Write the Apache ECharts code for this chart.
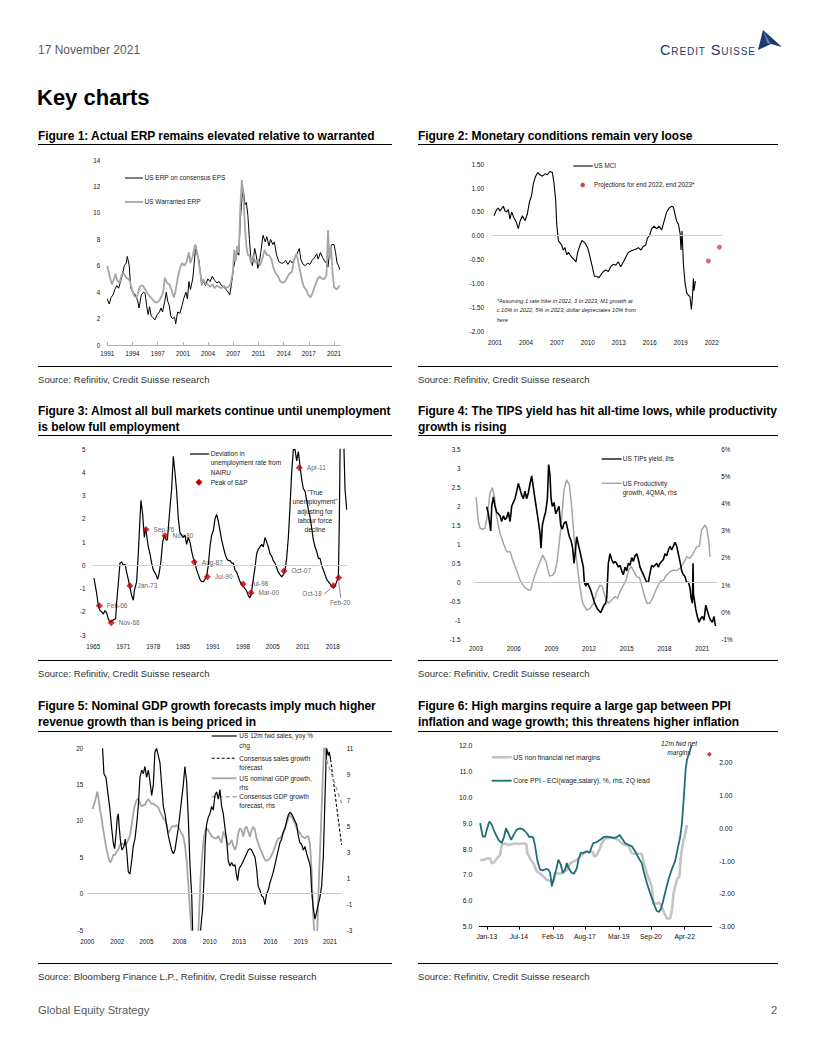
<!DOCTYPE html>
<html><head><meta charset="utf-8">
<script src="https://cdn.jsdelivr.net/npm/echarts@6/dist/echarts.min.js"></script>
<style>
body{margin:0;background:#fff;}
#page{position:relative;width:816px;height:1056px;overflow:hidden;font-family:'Liberation Sans',Arial,sans-serif;color:#000;}
.t{position:absolute;white-space:nowrap;}
.date{left:38px;top:42px;font-size:12px;line-height:16px;color:#595959;}
.key{left:37px;top:85px;font-size:22px;line-height:26px;font-weight:bold;}
.ft{font-size:12px;line-height:16px;font-weight:bold;letter-spacing:-0.05px;}
.rule{position:absolute;height:0;border-top:1.3px solid #000;}
.src{font-size:9.6px;line-height:12px;color:#333;}
.foot{font-size:11.2px;line-height:14px;color:#595959;}
.logo{left:660px;top:42px;font-size:14.5px;line-height:16px;color:#1b3a6b;font-variant:small-caps;letter-spacing:0.9px;}
.chart{position:absolute;}
</style></head>
<body><div id="page">
<div class="t date">17 November 2021</div>
<div class="t logo">Credit Suisse</div>
<svg style="position:absolute;left:757px;top:29px" width="26" height="23" viewBox="0 0 26 23">
<polygon points="1,21 6,1 25,18 14,15" fill="#1b3a6b"/><polygon points="6,1 10,14 14,15" fill="#5b7fb0"/>
</svg>
<div class="t key">Key charts</div>

<div class="t ft" style="left:38px;top:128px">Figure 1: Actual ERP remains elevated relative to warranted</div>
<div class="rule" style="left:38px;top:144px;width:354px"></div>
<div class="t ft" style="left:418px;top:128px">Figure 2: Monetary conditions remain very loose</div>
<div class="rule" style="left:418px;top:144px;width:360px"></div>
<div id="c1" class="chart" style="left:38px;top:148px;width:354px;height:215px"></div>
<div id="c2" class="chart" style="left:418px;top:148px;width:360px;height:215px"></div>
<div class="rule" style="left:38px;top:366px;width:354px"></div>
<div class="rule" style="left:418px;top:366px;width:360px"></div>
<div class="t src" style="left:38px;top:374px">Source: Refinitiv, Credit Suisse research</div>
<div class="t src" style="left:418px;top:374px">Source: Refinitiv, Credit Suisse research</div>

<div class="t ft" style="left:38px;top:403px">Figure 3: Almost all bull markets continue until unemployment<br>is below full employment</div>
<div class="rule" style="left:38px;top:435px;width:354px"></div>
<div class="t ft" style="left:418px;top:403px">Figure 4: The TIPS yield has hit all-time lows, while productivity<br>growth is rising</div>
<div class="rule" style="left:418px;top:435px;width:360px"></div>
<div id="c3" class="chart" style="left:38px;top:440px;width:354px;height:218px"></div>
<div id="c4" class="chart" style="left:418px;top:440px;width:360px;height:218px"></div>
<div class="rule" style="left:38px;top:660px;width:354px"></div>
<div class="rule" style="left:418px;top:660px;width:360px"></div>
<div class="t src" style="left:38px;top:668px">Source: Refinitiv, Credit Suisse research</div>
<div class="t src" style="left:418px;top:668px">Source: Refinitiv, Credit Suisse research</div>

<div class="t ft" style="left:38px;top:698px">Figure 5: Nominal GDP growth forecasts imply much higher<br>revenue growth than is being priced in</div>
<div class="rule" style="left:38px;top:731px;width:354px"></div>
<div class="t ft" style="left:418px;top:698px">Figure 6: High margins require a large gap between PPI<br>inflation and wage growth; this threatens higher inflation</div>
<div class="rule" style="left:418px;top:731px;width:360px"></div>
<div id="c5" class="chart" style="left:38px;top:728px;width:354px;height:230px"></div>
<div id="c6" class="chart" style="left:418px;top:728px;width:360px;height:230px"></div>
<div class="rule" style="left:38px;top:963px;width:354px"></div>
<div class="rule" style="left:418px;top:963px;width:360px"></div>
<div class="t src" style="left:38px;top:971px">Source: Bloomberg Finance L.P., Refinitiv, Credit Suisse research</div>
<div class="t src" style="left:418px;top:971px">Source: Refinitiv, Credit Suisse research</div>

<div class="t foot" style="left:38px;top:1003px">Global Equity Strategy</div>
<div class="t foot" style="left:771px;top:1003px">2</div>
</div>
<script>
// ---------------- DATA ----------------
// Figure 1
const fig1TickYears = [1991, 1994.333, 1997.667, 2001, 2004.333, 2007.667, 2011, 2014.333, 2017.667, 2021];
const fig1TickLabels = ['1991','1994','1997','2001','2004','2007','2011','2014','2017','2021'];
const fig1ActualErp = [[1991.0,3.5],[1991.25,3.1],[1991.5,3.6],[1991.75,3.8],[1992.0,4.2],[1992.25,4.5],[1992.5,4.3],[1992.75,4.8],[1993.0,5.3],[1993.25,6.0],[1993.5,6.2],[1993.65,6.7],[1993.9,6.0],[1994.1,4.3],[1994.4,4.0],[1994.7,3.8],[1995.0,3.4],[1995.2,2.8],[1995.5,3.8],[1995.8,4.0],[1996.0,3.9],[1996.2,3.0],[1996.4,2.3],[1996.6,2.9],[1996.8,2.2],[1997.0,2.1],[1997.3,1.9],[1997.6,2.3],[1997.9,2.5],[1998.1,2.8],[1998.3,2.5],[1998.6,3.3],[1998.8,4.0],[1999.0,3.3],[1999.2,3.0],[1999.4,2.2],[1999.6,2.0],[1999.9,2.1],[2000.05,1.6],[2000.3,2.5],[2000.6,2.4],[2000.9,3.0],[2001.1,3.5],[2001.4,4.0],[2001.6,3.5],[2001.8,4.8],[2002.0,4.2],[2002.3,5.0],[2002.5,6.2],[2002.7,7.5],[2002.9,6.8],[2003.1,6.5],[2003.3,5.5],[2003.5,4.6],[2003.7,4.8],[2004.0,4.5],[2004.3,5.0],[2004.6,4.8],[2004.9,5.2],[2005.2,4.9],[2005.5,4.7],[2005.8,4.8],[2006.1,4.5],[2006.4,4.4],[2006.7,4.2],[2007.0,4.0],[2007.2,3.8],[2007.4,4.5],[2007.7,5.8],[2007.9,6.4],[2008.2,7.0],[2008.4,6.8],[2008.6,9.5],[2008.8,11.0],[2009.0,11.8],[2009.2,10.6],[2009.4,10.8],[2009.6,9.8],[2009.8,8.0],[2010.0,6.5],[2010.2,6.0],[2010.5,7.3],[2010.7,6.8],[2010.9,5.8],[2011.1,6.2],[2011.3,7.0],[2011.6,8.3],[2011.9,7.8],[2012.1,8.2],[2012.4,7.5],[2012.6,8.0],[2012.9,7.6],[2013.1,7.8],[2013.4,6.8],[2013.7,6.3],[2014.0,6.2],[2014.3,6.2],[2014.6,6.4],[2014.9,6.1],[2015.2,6.4],[2015.5,6.2],[2015.8,6.6],[2016.1,6.9],[2016.4,7.3],[2016.6,6.5],[2016.9,6.1],[2017.2,6.0],[2017.5,6.2],[2017.8,6.1],[2018.1,6.4],[2018.4,6.6],[2018.7,6.9],[2018.9,6.5],[2019.2,7.0],[2019.5,6.6],[2019.8,6.3],[2020.0,6.2],[2020.2,5.9],[2020.4,7.0],[2020.7,7.6],[2021.0,7.6],[2021.2,7.0],[2021.4,6.2],[2021.6,6.0],[2021.75,5.7]];
const fig1WarrantedErp = [[1991.0,6.0],[1991.3,5.2],[1991.6,4.6],[1991.9,5.0],[1992.1,5.4],[1992.3,4.9],[1992.6,4.7],[1992.9,5.3],[1993.2,5.4],[1993.5,5.1],[1993.8,5.0],[1994.0,4.8],[1994.3,4.1],[1994.6,3.7],[1994.9,3.6],[1995.2,4.2],[1995.4,4.5],[1995.7,4.5],[1996.0,4.2],[1996.3,3.9],[1996.6,3.7],[1996.9,3.5],[1997.2,3.3],[1997.5,3.2],[1997.8,3.3],[1998.1,3.6],[1998.4,4.0],[1998.6,5.1],[1998.9,4.7],[1999.2,4.6],[1999.5,4.2],[1999.8,3.6],[2000.0,4.0],[2000.3,5.0],[2000.6,5.8],[2000.9,6.2],[2001.2,6.0],[2001.5,6.3],[2001.8,7.0],[2002.0,6.2],[2002.3,6.7],[2002.6,7.6],[2002.8,7.2],[2003.0,6.6],[2003.3,5.5],[2003.5,4.5],[2003.7,5.0],[2004.0,4.6],[2004.3,4.6],[2004.6,4.4],[2004.9,4.6],[2005.2,4.3],[2005.5,4.5],[2005.8,4.4],[2006.1,4.3],[2006.4,4.5],[2006.7,4.3],[2007.0,4.4],[2007.3,4.6],[2007.6,5.5],[2007.8,7.2],[2008.0,6.4],[2008.2,7.5],[2008.4,7.0],[2008.6,10.5],[2008.8,12.5],[2009.0,11.5],[2009.2,9.0],[2009.4,7.5],[2009.6,6.8],[2009.8,6.8],[2010.0,6.2],[2010.3,6.8],[2010.6,6.2],[2010.9,6.5],[2011.2,6.0],[2011.5,6.5],[2011.8,7.2],[2012.1,6.8],[2012.4,6.8],[2012.7,6.5],[2013.0,5.8],[2013.3,5.4],[2013.6,5.2],[2013.9,4.8],[2014.2,4.7],[2014.5,4.8],[2014.8,5.1],[2015.1,5.4],[2015.4,5.5],[2015.7,6.4],[2016.0,6.9],[2016.2,6.5],[2016.5,5.6],[2016.8,4.8],[2017.0,4.4],[2017.3,4.2],[2017.6,3.8],[2017.9,3.6],[2018.2,4.0],[2018.5,4.5],[2018.8,5.0],[2019.1,5.2],[2019.4,5.0],[2019.7,5.0],[2020.0,5.3],[2020.2,8.7],[2020.4,6.5],[2020.6,7.5],[2020.8,5.5],[2021.0,4.4],[2021.3,4.2],[2021.5,4.3],[2021.75,4.5]];

// Figure 2
const fig2TickYears = [2001, 2004, 2007, 2010, 2013, 2016, 2019, 2022];
const fig2TickLabels = ['2001','2004','2007','2010','2013','2016','2019','2022'];
const fig2UsMci = [[2000.9,0.42],[2001.16,0.55],[2001.32,0.58],[2001.48,0.52],[2001.65,0.57],[2001.81,0.62],[2001.97,0.52],[2002.13,0.50],[2002.29,0.55],[2002.45,0.35],[2002.62,0.50],[2002.78,0.40],[2003.04,0.30],[2003.26,0.15],[2003.42,0.30],[2003.65,0.42],[2003.91,0.32],[2004.13,0.45],[2004.33,0.70],[2004.55,0.85],[2004.72,1.10],[2004.94,1.25],[2005.14,1.33],[2005.36,1.28],[2005.59,1.25],[2005.85,1.30],[2006.07,1.28],[2006.33,1.35],[2006.56,1.33],[2006.72,1.10],[2006.88,0.75],[2006.98,0.25],[2007.14,-0.10],[2007.3,-0.15],[2007.46,-0.20],[2007.62,-0.30],[2007.79,-0.25],[2007.95,-0.40],[2008.11,-0.35],[2008.27,-0.40],[2008.43,-0.45],[2008.66,-0.50],[2008.85,-0.55],[2009.01,-0.35],[2009.24,-0.20],[2009.43,-0.10],[2009.72,-0.15],[2009.98,-0.25],[2010.21,-0.45],[2010.43,-0.65],[2010.63,-0.85],[2010.85,-0.85],[2011.08,-0.88],[2011.27,-0.82],[2011.5,-0.75],[2011.73,-0.72],[2011.99,-0.75],[2012.21,-0.65],[2012.47,-0.60],[2012.7,-0.62],[2012.95,-0.55],[2013.18,-0.65],[2013.44,-0.55],[2013.67,-0.45],[2013.92,-0.35],[2014.18,-0.32],[2014.41,-0.30],[2014.67,-0.28],[2014.89,-0.25],[2015.15,-0.30],[2015.38,-0.22],[2015.6,-0.20],[2015.77,-0.05],[2015.96,0.00],[2016.19,0.15],[2016.41,0.20],[2016.67,0.15],[2016.9,0.20],[2017.15,0.12],[2017.38,0.30],[2017.64,0.50],[2017.87,0.58],[2018.12,0.62],[2018.29,0.60],[2018.45,0.45],[2018.61,0.30],[2018.77,0.25],[2018.94,0.05],[2019.03,-0.30],[2019.13,0.10],[2019.26,-0.60],[2019.42,-1.00],[2019.58,-1.20],[2019.74,-1.25],[2019.9,-1.28],[2020.03,-1.55],[2020.13,-1.30],[2020.23,-0.90],[2020.29,-1.15],[2020.42,-0.95]];
const fig2Projections = [[2021.68,-0.53],[2022.75,-0.24]];

// Figure 3
const fig3TickYears = [1965, 1971.667, 1978.333, 1985, 1991.667, 1998.333, 2005, 2011.667, 2018.333];
const fig3TickLabels = ['1965','1971','1978','1985','1991','1998','2005','2011','2018'];
const fig3UnempGap = [[1965.15,-0.55],[1965.74,-1.2],[1966.11,-1.7],[1966.49,-1.95],[1966.86,-2.0],[1967.23,-2.1],[1967.6,-1.95],[1967.97,-2.05],[1968.34,-2.3],[1968.71,-2.45],[1969.46,-2.35],[1969.98,-2.3],[1970.2,-1.6],[1970.57,-0.8],[1970.94,0.1],[1971.32,0.15],[1971.69,0.0],[1972.06,0.05],[1972.43,-0.3],[1972.8,-0.6],[1973.17,-0.95],[1973.54,-1.3],[1973.92,-1.5],[1974.14,-1.1],[1974.66,-0.7],[1975.03,0.5],[1975.4,2.0],[1975.62,2.8],[1976.0,2.2],[1976.37,1.2],[1976.66,1.6],[1976.89,1.3],[1977.26,0.8],[1977.63,0.5],[1978.0,0.1],[1978.37,-0.2],[1978.97,-0.4],[1979.34,-0.6],[1979.71,-0.3],[1980.08,0.2],[1980.45,1.0],[1980.82,1.3],[1981.2,1.1],[1981.49,1.1],[1981.72,1.6],[1982.09,2.5],[1982.46,3.3],[1982.83,4.7],[1983.2,4.0],[1983.57,3.2],[1983.95,2.0],[1984.32,1.4],[1984.69,1.3],[1985.06,1.2],[1985.43,1.3],[1985.8,0.9],[1986.17,1.2],[1986.55,1.0],[1986.92,0.6],[1987.29,0.3],[1987.66,0.1],[1988.03,-0.2],[1988.4,-0.4],[1988.77,-0.6],[1989.15,-0.7],[1989.52,-0.7],[1989.89,-0.6],[1990.26,-0.45],[1990.63,0.0],[1991.0,0.8],[1991.37,1.3],[1991.75,1.5],[1992.12,2.0],[1992.49,2.2],[1992.86,1.9],[1993.23,1.5],[1993.6,1.1],[1993.97,0.8],[1994.35,0.5],[1994.72,0.3],[1995.09,0.2],[1995.46,0.2],[1995.83,0.1],[1996.2,0.1],[1996.57,-0.2],[1996.95,-0.3],[1997.32,-0.5],[1997.69,-0.7],[1998.06,-0.8],[1998.43,-0.9],[1998.8,-1.0],[1999.17,-1.1],[1999.55,-1.3],[1999.92,-1.4],[2000.29,-1.1],[2000.66,-0.6],[2001.03,-0.1],[2001.4,0.5],[2001.78,0.7],[2002.15,0.8],[2002.52,0.9],[2002.89,0.8],[2003.26,1.2],[2003.63,1.0],[2004.0,0.8],[2004.38,0.5],[2004.75,0.4],[2005.12,0.2],[2005.49,0.1],[2005.86,-0.1],[2006.23,-0.3],[2006.6,-0.4],[2006.98,-0.5],[2007.35,-0.4],[2007.72,-0.2],[2008.09,0.3],[2008.46,1.2],[2008.83,2.5],[2009.2,4.0],[2009.58,5.0],[2009.95,5.0],[2010.32,4.5],[2010.69,4.9],[2011.06,4.3],[2011.43,3.7],[2011.81,3.3],[2012.18,3.2],[2012.55,2.8],[2012.92,2.4],[2013.29,2.1],[2013.66,1.6],[2014.03,1.1],[2014.41,0.8],[2014.78,0.6],[2015.15,0.3],[2015.52,0.3],[2015.89,0.0],[2016.26,-0.2],[2016.63,-0.4],[2017.0,-0.6],[2017.38,-0.7],[2017.75,-0.8],[2018.12,-0.9],[2018.49,-0.95],[2018.86,-0.9],[2019.23,-0.7],[2019.61,-0.5],[2019.83,2.0],[2020.05,6.0],[2020.27,9.0],[2020.72,6.0],[2021.09,3.3],[2021.46,2.4]];
const fig3PeakLabels = ['Feb-66','Nov-68','Jan-73','Sep-76','Nov-80','Aug-87','Jul-90','Jul-98','Mar-00','Oct-07','Apr-11','Oct-18','Feb-20'];
const fig3PeakYears = [1966.34, 1969.0, 1973.17, 1976.74, 1980.97, 1987.51, 1990.41, 1998.36, 2000.14, 2007.5, 2010.91, 2018.49, 2019.68];
const fig3PeakValues = [-1.74, -2.47, -0.88, 1.55, 1.28, 0.14, -0.49, -0.80, -1.18, -0.24, 4.21, -0.88, -0.53];

// Figure 4
const fig4TickYears = [2003, 2006, 2009, 2012, 2015, 2018, 2021];
const fig4TickLabels = ['2003','2006','2009','2012','2015','2018','2021'];
const fig4TipsYield = [[2003.85,1.99],[2003.98,1.8],[2004.11,1.5],[2004.17,1.35],[2004.25,2.0],[2004.38,2.25],[2004.51,2.0],[2004.64,1.85],[2004.78,1.8],[2004.91,1.75],[2005.04,1.6],[2005.18,1.75],[2005.31,1.65],[2005.44,1.7],[2005.57,1.85],[2005.71,1.6],[2005.84,2.0],[2005.97,2.1],[2006.1,2.2],[2006.24,2.4],[2006.37,2.6],[2006.5,2.45],[2006.63,2.3],[2006.77,2.2],[2006.9,2.4],[2007.03,2.2],[2007.16,2.35],[2007.3,2.6],[2007.43,2.8],[2007.56,2.5],[2007.69,2.2],[2007.83,1.9],[2007.96,1.6],[2008.09,1.3],[2008.17,0.9],[2008.28,1.5],[2008.41,1.7],[2008.54,1.85],[2008.68,2.2],[2008.78,3.1],[2008.89,2.8],[2008.97,2.2],[2009.07,2.0],[2009.21,2.1],[2009.34,1.8],[2009.47,1.9],[2009.6,2.0],[2009.74,1.5],[2009.87,1.4],[2010.0,1.55],[2010.16,1.6],[2010.29,1.4],[2010.43,1.2],[2010.56,1.1],[2010.69,0.9],[2010.8,0.5],[2010.9,0.8],[2011.01,1.2],[2011.14,1.0],[2011.28,0.8],[2011.41,0.6],[2011.54,0.4],[2011.62,0.0],[2011.73,-0.1],[2011.86,0.0],[2011.99,-0.1],[2012.12,-0.2],[2012.26,-0.35],[2012.39,-0.5],[2012.52,-0.6],[2012.66,-0.7],[2012.79,-0.75],[2012.92,-0.8],[2013.05,-0.7],[2013.19,-0.6],[2013.32,-0.55],[2013.4,-0.4],[2013.53,0.5],[2013.66,0.75],[2013.8,0.6],[2013.93,0.5],[2014.06,0.55],[2014.19,0.5],[2014.33,0.4],[2014.46,0.45],[2014.59,0.3],[2014.72,0.2],[2014.86,0.4],[2014.99,0.3],[2015.12,0.5],[2015.25,0.45],[2015.39,0.65],[2015.52,0.55],[2015.65,0.7],[2015.79,0.75],[2015.92,0.6],[2016.05,0.4],[2016.18,0.3],[2016.32,0.2],[2016.45,0.1],[2016.58,0.0],[2016.71,0.0],[2016.85,0.25],[2016.98,0.45],[2017.11,0.4],[2017.24,0.45],[2017.38,0.5],[2017.51,0.4],[2017.64,0.5],[2017.77,0.55],[2017.91,0.6],[2018.04,0.75],[2018.17,0.7],[2018.31,0.85],[2018.44,0.95],[2018.57,0.85],[2018.7,0.95],[2018.84,1.05],[2018.97,0.95],[2019.1,0.75],[2019.23,0.55],[2019.37,0.3],[2019.5,0.2],[2019.63,0.15],[2019.76,0.0],[2019.9,0.0],[2020.03,-0.15],[2020.11,-0.4],[2020.22,-0.55],[2020.27,0.5],[2020.3,-0.3],[2020.37,-0.45],[2020.48,-0.7],[2020.61,-0.9],[2020.75,-1.05],[2020.88,-0.95],[2021.01,-0.9],[2021.14,-1.0],[2021.28,-0.6],[2021.41,-0.75],[2021.54,-0.9],[2021.67,-1.0],[2021.81,-1.05],[2021.94,-0.9],[2022.05,-1.15]];
const fig4Productivity = [[2003.0,4.25],[2003.19,3.33],[2003.32,3.10],[2003.53,3.05],[2003.72,3.10],[2003.93,3.64],[2004.11,4.38],[2004.3,4.59],[2004.46,4.26],[2004.64,3.52],[2004.91,2.90],[2005.18,2.54],[2005.44,2.23],[2005.71,2.23],[2005.92,1.92],[2006.18,1.61],[2006.5,1.18],[2006.82,0.94],[2007.16,0.82],[2007.35,0.82],[2007.56,1.18],[2007.88,1.61],[2008.15,1.92],[2008.31,2.10],[2008.57,1.86],[2008.84,1.33],[2009.1,1.36],[2009.29,1.49],[2009.47,1.92],[2009.74,3.03],[2010.0,4.50],[2010.21,4.87],[2010.43,4.69],[2010.61,3.89],[2010.8,2.78],[2011.01,1.92],[2011.22,1.06],[2011.49,0.32],[2011.81,0.08],[2012.07,0.14],[2012.34,0.32],[2012.6,0.75],[2012.87,1.00],[2013.05,0.94],[2013.27,0.57],[2013.53,0.32],[2013.8,0.45],[2014.06,0.57],[2014.25,0.51],[2014.46,0.75],[2014.67,0.94],[2014.94,1.18],[2015.15,1.55],[2015.36,1.68],[2015.57,1.49],[2015.79,1.30],[2016.0,1.28],[2016.21,0.94],[2016.42,0.57],[2016.63,0.32],[2016.85,0.34],[2017.11,0.57],[2017.38,0.88],[2017.64,1.12],[2017.91,1.18],[2018.17,1.37],[2018.44,1.49],[2018.7,1.55],[2018.97,1.53],[2019.23,1.61],[2019.5,1.80],[2019.76,2.04],[2020.03,1.98],[2020.29,2.17],[2020.56,2.41],[2020.77,2.43],[2020.96,3.03],[2021.22,3.21],[2021.36,3.09],[2021.51,2.66],[2021.62,2.04]];

// Figure 5
const fig5TickYears = [2000, 2002.67, 2005.28, 2008.2, 2010.9, 2013.5, 2016.3, 2019.0, 2021.6];
const fig5TickLabels = ['2000','2002','2005','2008','2010','2013','2016','2019','2021'];
const fig5RightTicks = [-3, -1, 1, 3, 5, 7, 9, 11];
const fig5SalesGrowth = [[2001.36,20.0],[2001.48,16.5],[2001.66,16.0],[2001.78,14.5],[2001.9,13.0],[2002.02,11.5],[2002.17,9.0],[2002.31,7.0],[2002.43,6.2],[2002.55,8.0],[2002.67,10.5],[2002.76,11.0],[2002.85,9.0],[2002.97,7.0],[2003.09,6.0],[2003.26,6.5],[2003.38,7.5],[2003.5,6.0],[2003.65,3.0],[2003.8,2.7],[2003.95,4.5],[2004.09,6.5],[2004.24,7.5],[2004.39,9.5],[2004.54,12.0],[2004.69,16.0],[2004.84,17.0],[2004.99,16.5],[2005.13,17.5],[2005.28,16.0],[2005.43,17.0],[2005.58,15.5],[2005.73,13.5],[2005.88,15.0],[2006.02,19.5],[2006.17,20.0],[2006.32,19.0],[2006.47,18.0],[2006.62,15.0],[2006.77,12.0],[2006.91,11.0],[2007.06,9.5],[2007.21,8.0],[2007.36,7.0],[2007.51,6.0],[2007.66,5.5],[2007.8,6.0],[2007.95,7.5],[2008.1,9.0],[2008.25,11.0],[2008.4,13.0],[2008.55,15.0],[2008.69,17.5],[2008.84,15.5],[2008.99,10.5],[2009.14,4.0],[2009.29,0.0],[2009.38,-5.0],[2009.58,-8.0],[2009.88,-8.0],[2010.09,-5.0],[2010.27,-2.0],[2010.39,2.0],[2010.5,7.0],[2010.62,9.5],[2010.77,10.5],[2010.92,11.0],[2011.07,12.0],[2011.22,11.5],[2011.36,13.5],[2011.51,14.0],[2011.66,13.0],[2011.81,14.3],[2011.96,12.0],[2012.11,11.0],[2012.26,9.0],[2012.4,7.5],[2012.55,4.5],[2012.7,3.8],[2012.85,4.3],[2013.0,3.8],[2013.15,4.0],[2013.29,2.5],[2013.38,1.8],[2013.53,3.5],[2013.74,4.0],[2013.89,4.5],[2014.04,5.0],[2014.18,5.5],[2014.33,6.0],[2014.48,6.2],[2014.63,6.0],[2014.78,5.5],[2014.93,5.0],[2015.07,3.5],[2015.22,1.0],[2015.37,0.5],[2015.52,-0.3],[2015.67,-0.5],[2015.82,-1.5],[2015.96,0.0],[2016.11,0.5],[2016.26,1.5],[2016.41,2.2],[2016.56,3.0],[2016.71,4.0],[2016.85,5.0],[2017.0,6.0],[2017.15,7.0],[2017.3,7.5],[2017.45,8.5],[2017.6,9.0],[2017.75,10.0],[2017.89,10.8],[2018.04,11.2],[2018.19,11.0],[2018.34,10.5],[2018.49,10.0],[2018.64,9.5],[2018.78,8.0],[2018.93,7.0],[2019.08,6.8],[2019.23,6.0],[2019.38,6.5],[2019.53,5.5],[2019.67,4.8],[2019.82,4.0],[2019.88,3.5],[2019.97,0.5],[2020.12,-2.0],[2020.27,-3.5],[2020.42,-2.5],[2020.56,-1.5],[2020.71,-0.5],[2020.86,1.0],[2021.01,5.0],[2021.16,13.0],[2021.25,18.0],[2021.31,20.0],[2021.45,19.0],[2021.54,19.5],[2021.66,18.5]];
const fig5SalesForecast = [[2021.66,18.5],[2022.64,6.7]];
const fig5NominalGdp = [[2000.47,6.33],[2000.68,6.9],[2000.89,7.66],[2000.98,7.28],[2001.13,6.25],[2001.28,5.6],[2001.42,4.7],[2001.57,3.94],[2001.72,3.17],[2001.87,2.65],[2002.02,2.2],[2002.17,2.4],[2002.31,2.78],[2002.46,2.78],[2002.61,3.04],[2002.76,3.17],[2002.91,3.55],[2003.06,3.68],[2003.2,3.6],[2003.35,3.55],[2003.5,3.68],[2003.65,3.94],[2003.8,4.32],[2003.95,5.09],[2004.09,5.99],[2004.24,6.63],[2004.39,7.0],[2004.54,7.15],[2004.69,6.76],[2004.84,6.5],[2004.99,6.63],[2005.13,6.63],[2005.28,6.9],[2005.43,7.1],[2005.58,6.9],[2005.73,6.71],[2005.88,6.76],[2006.02,6.63],[2006.17,6.56],[2006.32,6.45],[2006.47,6.12],[2006.62,5.86],[2006.77,5.6],[2006.91,5.48],[2007.06,5.09],[2007.21,4.45],[2007.36,4.7],[2007.51,4.96],[2007.66,5.01],[2007.8,4.96],[2007.95,5.09],[2008.1,4.96],[2008.25,4.7],[2008.4,4.45],[2008.55,4.19],[2008.69,3.55],[2008.84,2.4],[2008.99,0.6],[2009.14,-1.46],[2009.29,-3.2],[2009.58,-4.0],[2009.88,-3.2],[2010.09,1.1],[2010.27,3.17],[2010.39,4.19],[2010.56,4.84],[2010.77,4.7],[2010.92,4.45],[2011.07,4.24],[2011.22,4.14],[2011.36,4.06],[2011.51,4.06],[2011.66,4.24],[2011.81,3.94],[2011.96,3.73],[2012.11,4.58],[2012.26,4.32],[2012.4,3.81],[2012.55,3.55],[2012.7,3.68],[2012.85,3.94],[2013.0,3.47],[2013.15,3.17],[2013.29,3.55],[2013.44,4.45],[2013.59,4.84],[2013.74,4.7],[2013.89,4.19],[2014.04,4.84],[2014.18,4.96],[2014.33,4.58],[2014.48,4.19],[2014.63,4.7],[2014.78,4.96],[2014.93,4.7],[2015.07,4.06],[2015.22,3.68],[2015.37,3.29],[2015.52,3.04],[2015.67,2.65],[2015.82,2.4],[2015.96,2.34],[2016.11,2.4],[2016.26,2.52],[2016.41,2.78],[2016.56,3.04],[2016.71,3.42],[2016.85,3.81],[2017.0,4.06],[2017.15,4.06],[2017.3,4.24],[2017.45,4.45],[2017.6,4.84],[2017.75,5.22],[2017.89,5.6],[2018.04,5.86],[2018.19,5.73],[2018.34,5.48],[2018.49,5.17],[2018.64,4.84],[2018.78,4.66],[2018.93,4.45],[2019.08,4.24],[2019.23,4.14],[2019.38,4.06],[2019.53,4.19],[2019.67,4.24],[2019.82,3.68],[2019.97,1.62],[2020.12,-1.97],[2020.21,-3.2],[2020.42,-4.0],[2020.47,-3.2],[2020.62,0.85],[2020.77,4.19],[2020.92,7.79],[2021.07,10.87],[2021.16,11.5],[2021.3,10.2]];
const fig5GdpForecast = [[2021.31,10.1],[2022.64,6.76]];

// Figure 6
const fig6TickYears = [2013, 2014.5, 2016.083, 2017.583, 2019.167, 2020.667, 2022.25];
const fig6TickLabels = ['Jan-13','Jul-14','Feb-16','Aug-17','Mar-19','Sep-20','Apr-22'];
const fig6RightTicks = [-3, -2, -1, 0, 1, 2];
const fig6NetMargins = [[2012.69,7.58],[2012.84,7.58],[2013.0,7.64],[2013.16,7.64],[2013.23,7.45],[2013.34,7.48],[2013.47,7.64],[2013.62,7.77],[2013.7,8.16],[2013.86,8.22],[2014.01,8.16],[2014.17,8.2],[2014.32,8.22],[2014.48,8.2],[2014.64,8.22],[2014.84,8.22],[2014.9,7.84],[2015.02,7.64],[2015.18,7.45],[2015.34,7.13],[2015.49,7.06],[2015.65,6.94],[2015.8,6.81],[2015.96,6.78],[2016.12,6.74],[2016.19,7.06],[2016.35,7.06],[2016.5,7.06],[2016.61,7.13],[2016.74,7.19],[2016.89,7.45],[2017.05,7.52],[2017.21,7.58],[2017.36,7.71],[2017.52,7.84],[2017.67,7.9],[2017.83,7.9],[2017.95,7.9],[2018.02,7.71],[2018.14,7.77],[2018.26,7.97],[2018.37,8.22],[2018.53,8.42],[2018.69,8.42],[2018.84,8.46],[2019.0,8.42],[2019.15,8.35],[2019.31,8.22],[2019.46,8.16],[2019.62,8.12],[2019.78,7.84],[2019.93,7.82],[2020.09,7.82],[2020.24,7.82],[2020.35,7.45],[2020.48,7.06],[2020.6,6.81],[2020.71,6.55],[2020.79,5.9],[2020.94,5.9],[2021.1,5.92],[2021.26,5.58],[2021.41,5.32],[2021.57,5.32],[2021.65,5.65],[2021.73,6.29],[2021.8,6.55],[2021.91,6.87],[2022.0,6.94],[2022.07,7.71],[2022.16,8.22],[2022.24,8.48],[2022.35,8.93]];
const fig6PpiEciGap = [[2012.69,0.16],[2012.81,-0.25],[2012.92,-0.25],[2013.0,-0.04],[2013.12,0.21],[2013.23,0.11],[2013.39,-0.15],[2013.55,-0.35],[2013.7,-0.45],[2013.81,-0.25],[2013.9,0.0],[2014.01,-0.15],[2014.14,-0.35],[2014.25,-0.2],[2014.4,-0.04],[2014.56,0.0],[2014.71,-0.04],[2014.87,-0.15],[2014.99,-0.27],[2015.1,-0.25],[2015.18,-0.3],[2015.26,-0.55],[2015.37,-1.0],[2015.49,-1.26],[2015.62,-1.28],[2015.77,-1.24],[2015.88,-1.26],[2015.96,-1.36],[2016.04,-1.77],[2016.12,-1.56],[2016.24,-1.26],[2016.35,-0.96],[2016.46,-1.11],[2016.55,-1.36],[2016.66,-1.26],[2016.74,-1.06],[2016.82,-1.21],[2016.97,-1.36],[2017.08,-1.38],[2017.21,-1.21],[2017.28,-0.96],[2017.39,-0.75],[2017.52,-0.75],[2017.67,-0.7],[2017.8,-0.75],[2017.91,-0.55],[2017.98,-0.45],[2018.14,-0.42],[2018.3,-0.35],[2018.45,-0.27],[2018.61,-0.25],[2018.76,-0.27],[2018.92,-0.3],[2019.07,-0.27],[2019.2,-0.2],[2019.31,-0.3],[2019.46,-0.45],[2019.62,-0.5],[2019.78,-0.55],[2019.93,-0.7],[2020.09,-0.9],[2020.24,-1.06],[2020.35,-1.36],[2020.48,-1.66],[2020.63,-1.97],[2020.79,-2.27],[2020.94,-2.52],[2021.05,-2.55],[2021.13,-2.47],[2021.22,-2.27],[2021.33,-1.97],[2021.49,-1.56],[2021.64,-1.26],[2021.8,-1.0],[2021.91,-0.65],[2022.04,-0.25],[2022.12,0.16],[2022.21,0.97],[2022.29,1.78],[2022.35,2.08],[2022.42,2.23],[2022.5,2.38],[2022.58,2.55]];
const fig6MarginForecast = [[2023.4,2.26]];

// ---------------- HELPERS ----------------
const FONT = "'Liberation Sans', Arial, sans-serif";
const TICK = {fontSize: 6.3, color: '#111', fontFamily: FONT};
function fmtFrom(ticks, labels) {
  return function (v) {
    for (let i = 0; i < ticks.length; i++) if (Math.abs(ticks[i] - v) < 1e-6) return labels[i];
    return '';
  };
}
function xAxisCfg(min, max, ticks, labels, margin, line, lineColor, tickInside, fs) {
  return {
    type: 'value', min: min, max: max,
    axisLine: {show: !!line, onZero: false, lineStyle: {color: lineColor || '#000', width: 1}},
    axisTick: {show: !!line, customValues: ticks, inside: !!tickInside, length: 3, lineStyle: {color: lineColor || '#000'}},
    axisLabel: Object.assign({}, TICK, {customValues: ticks, formatter: fmtFrom(ticks, labels), margin: margin, fontSize: fs || TICK.fontSize}),
    splitLine: {show: false}
  };
}
function yAxisCfg(o, labelOpts) {
  return Object.assign({
    type: 'value', splitLine: {show: false}, axisLine: {show: false}, axisTick: {show: false},
    axisLabel: Object.assign({}, TICK, labelOpts || {})
  }, o);
}
function lineSeries(name, data, color, width, extra) {
  return Object.assign({
    name: name, type: 'line', data: data, symbol: 'none', showSymbol: false,
    lineStyle: {color: color, width: width}, itemStyle: {color: color}, silent: true, animation: false
  }, extra || {});
}
function zeroLine(color) {
  return {silent: true, symbol: 'none', label: {show: false}, lineStyle: {color: color || '#c8c8c8', width: 1, type: 'solid'}, data: [{yAxis: 0}]};
}
function legLine(x, y, len, color, width, dash) {
  return {type: 'line', silent: true, shape: {x1: x, y1: y, x2: x + len, y2: y}, style: {stroke: color, lineWidth: width, lineDash: dash || null}};
}
function legText(x, y, text, size, opts) {
  const lh = (opts && opts.lineHeight) || 9.4;
  return {type: 'text', silent: true, x: x, y: y - lh / 2, style: Object.assign({
    text: text, fill: '#222', fontSize: size || 6.5, fontFamily: FONT, lineHeight: lh,
    textAlign: 'left', align: 'left', textVerticalAlign: 'top', verticalAlign: 'top'
  }, opts || {})};
}
function mk(id) { return echarts.init(document.getElementById(id), null, {renderer: 'svg'}); }

// ---------------- FIGURE 1 ----------------
mk('c1').setOption({
  animation: false,
  grid: {left: 69.3, top: 12, width: 232.8, height: 185},
  xAxis: xAxisCfg(1991, 2021.8, fig1TickYears, fig1TickLabels, 5, true, '#b0b0b0', true),
  yAxis: yAxisCfg({min: 0, max: 14, interval: 2}, {margin: 7}),
  series: [
    lineSeries('US ERP on consensus EPS', fig1ActualErp, '#000', 1),
    lineSeries('US Warranted ERP', fig1WarrantedErp, '#a6a6a6', 1.8)
  ],
  graphic: [
    legLine(87, 30, 18, '#000', 1), legText(106.5, 30, 'US ERP on consensus EPS', 6.5),
    legLine(87, 54, 18, '#a6a6a6', 1.8), legText(106.5, 54, 'US Warranted ERP', 6.5)
  ]
});

// ---------------- FIGURE 2 ----------------
mk('c2').setOption({
  animation: false,
  grid: {left: 73.9, top: 16.3, width: 230.1, height: 166.7},
  xAxis: xAxisCfg(2000.7, 2023, fig2TickYears, fig2TickLabels, 8.5, false),
  yAxis: yAxisCfg({min: -2, max: 1.5, interval: 0.5}, {margin: 8, formatter: v => v.toFixed(2)}),
  series: [
    lineSeries('US MCI', fig2UsMci, '#000', 1.1, {markLine: zeroLine('#cfcfcf')}),
    {name: 'Projections for end 2022, end 2023*', type: 'scatter', data: fig2Projections, symbol: 'circle', symbolSize: 5, itemStyle: {color: '#c0504d'}, silent: true}
  ],
  graphic: [
    legLine(155.3, 18, 19.5, '#000', 1.1), legText(176, 18, 'US MCI', 6.3),
    {type: 'circle', silent: true, shape: {cx: 164.7, cy: 37, r: 2.3}, style: {fill: '#c0504d'}},
    legText(176, 37, 'Projections for end 2022, end 2023*', 6.3),
    legText(78.7, 152.7, '*Assuming 1 rate hike in 2022, 3 in 2023, M1 growth at\nc.10% in 2022, 5% in 2023, dollar depreciates 10% from\nhere', 5.6, {fontStyle: 'italic', lineHeight: 9.7})
  ]
});

// ---------------- FIGURE 3 ----------------
const fig3PeakData = fig3PeakYears.map((y, i) => ({value: [y, fig3PeakValues[i]], name: fig3PeakLabels[i]}));
const fig3Graphic = [
  legLine(152, 14, 19.3, '#000', 1.2),
  legText(172.7, 13.3, 'Deviation in\nunemployment rate from\nNAIRU', 6.5, {lineHeight: 9.7}),
  {type: 'polygon', silent: true, shape: {points: [[161, 38.8], [164.5, 42.3], [161, 45.8], [157.5, 42.3]]}, style: {fill: '#c00000'}},
  legText(172.7, 42.3, 'Peak of S&P', 6.5),
  legText(277, 52.7, '"True\nunemployment"\nadjusting for\nlabour force\ndecline', 6.5, {lineHeight: 9.2, textAlign: 'center', align: 'center'})
];
const chart3 = mk('c3');
chart3.setOption({
  animation: false,
  grid: {left: 54.4, top: 9.3, width: 254.9, height: 185.7},
  xAxis: xAxisCfg(1964.8, 2021.6, fig3TickYears, fig3TickLabels, 8.5, false),
  yAxis: yAxisCfg({min: -3, max: 5, interval: 1}, {margin: 7}),
  series: [
    lineSeries('Deviation in unemployment rate from NAIRU', fig3UnempGap, '#000', 1.2, {markLine: zeroLine('#d0d0d0')}),
    {name: 'Peak of S&P', type: 'scatter', data: fig3PeakData, symbol: 'diamond', symbolSize: 7, itemStyle: {color: '#c00000'}, silent: true, z: 5,
     label: {show: true, position: 'right', distance: 4, formatter: '{b}', fontSize: 6.5, color: '#333', fontFamily: FONT},
     labelLayout: function (p) {
       const n = fig3PeakLabels[p.dataIndex];
       if (n === 'Oct-18') return {dx: -(p.labelRect.width + 19), dy: 8};
       if (n === 'Feb-20') return {dx: -(p.labelRect.width / 2 + 6), dy: 25};
       return {};
     }}
  ],
  graphic: fig3Graphic
});
// leader lines for the two relocated labels, anchored on the library's own pixel mapping
(function () {
  const iOct = fig3PeakLabels.indexOf('Oct-18');
  const iFeb = fig3PeakLabels.indexOf('Feb-20');
  const pOct = chart3.convertToPixel({gridIndex: 0}, [fig3PeakYears[iOct], fig3PeakValues[iOct]]);
  const pFeb = chart3.convertToPixel({gridIndex: 0}, [fig3PeakYears[iFeb], fig3PeakValues[iFeb]]);
  fig3Graphic.push({type: 'line', silent: true, z: 10, shape: {x1: pOct[0] - 9, y1: pOct[1] + 8, x2: pOct[0] - 3, y2: pOct[1] + 3}, style: {stroke: '#555', lineWidth: 0.7}});
  fig3Graphic.push({type: 'line', silent: true, z: 10, shape: {x1: pFeb[0], y1: pFeb[1] + 4, x2: pFeb[0] + 2, y2: pFeb[1] + 20}, style: {stroke: '#555', lineWidth: 0.7}});
  chart3.setOption({graphic: fig3Graphic});
})();

// ---------------- FIGURE 4 ----------------
mk('c4').setOption({
  animation: false,
  grid: {left: 55.5, top: 9.3, width: 243.8, height: 190},
  xAxis: xAxisCfg(2002.8, 2022.2, fig4TickYears, fig4TickLabels, 6, false),
  yAxis: [
    yAxisCfg({min: -1.5, max: 3.5, interval: 0.5}, {margin: 13}),
    yAxisCfg({min: -1, max: 6, interval: 1, position: 'right'}, {margin: 4, formatter: v => v + '%'})
  ],
  series: [
    lineSeries('US TIPs yield, lhs', fig4TipsYield, '#000', 1.6, {markLine: zeroLine('#c8c8c8'), z: 3}),
    lineSeries('US Productivity growth, 4QMA, rhs', fig4Productivity, '#a6a6a6', 1.5, {yAxisIndex: 1, z: 2})
  ],
  graphic: [
    legLine(183.7, 19, 20, '#000', 1.3), legText(204.7, 19, 'US TIPs yield, lhs', 6.5),
    legLine(183.7, 43.3, 20, '#a6a6a6', 1.5), legText(204.7, 43.3, 'US Productivity\ngrowth, 4QMA, rhs', 6.5, {lineHeight: 9.4})
  ]
});

// ---------------- FIGURE 5 ----------------
mk('c5').setOption({
  animation: false,
  grid: {left: 49.3, top: 20.3, width: 254.4, height: 181.7},
  xAxis: xAxisCfg(2000, 2022.65, fig5TickYears, fig5TickLabels, 8, false),
  yAxis: [
    yAxisCfg({min: -5, max: 20, interval: 5}, {margin: 4}),
    yAxisCfg({min: -3, max: 11, position: 'right'}, {margin: 5, customValues: fig5RightTicks})
  ],
  series: [
    lineSeries('US 12m fwd sales, yoy % chg', fig5SalesGrowth, '#000', 1.2, {markLine: zeroLine('#c8c8c8'), z: 3}),
    lineSeries('Consensus sales growth forecast', fig5SalesForecast, '#000', 1.1, {lineStyle: {color: '#000', width: 1.1, type: [3, 2]}}),
    lineSeries('US nominal GDP growth, rhs', fig5NominalGdp, '#a6a6a6', 1.8, {yAxisIndex: 1, z: 2}),
    lineSeries('Consensus GDP growth forecast, rhs', fig5GdpForecast, '#a6a6a6', 1.5, {yAxisIndex: 1, lineStyle: {color: '#a6a6a6', width: 1.5, type: [4, 3]}})
  ],
  graphic: [
    legLine(173.7, 8, 25, '#000', 1.2), legText(201.3, 8, 'US 12m fwd sales, yoy %\nchg', 6.5, {lineHeight: 9.3}),
    legLine(173.7, 30.3, 25, '#000', 1.1, [3, 2]), legText(201.3, 30.3, 'Consensus sales growth\nforecast', 6.5, {lineHeight: 9.3}),
    legLine(173.7, 50.3, 25, '#a6a6a6', 1.8), legText(201.3, 50.3, 'US nominal GDP growth,\nrhs', 6.5, {lineHeight: 9.3}),
    legLine(173.7, 68.7, 25, '#a6a6a6', 1.5, [4, 3]), legText(201.3, 68.7, 'Consensus GDP growth\nforecast, rhs', 6.5, {lineHeight: 9.3})
  ]
});

// ---------------- FIGURE 6 ----------------
mk('c6').setOption({
  animation: false,
  grid: {left: 61.3, top: 17.7, width: 232.4, height: 181},
  xAxis: xAxisCfg(2012.65, 2023.51, fig6TickYears, fig6TickLabels, 6.5, true, '#000', false, 6.8),
  yAxis: [
    yAxisCfg({min: 5, max: 12, interval: 1}, {margin: 7, fontSize: 6.8, formatter: v => v.toFixed(1)}),
    yAxisCfg({min: -3, max: 2.52, position: 'right'}, {margin: 7.5, fontSize: 6.8, customValues: fig6RightTicks, formatter: v => v.toFixed(2)})
  ],
  series: [
    lineSeries('US non financial net margins', fig6NetMargins, '#c4c4c4', 2.6),
    lineSeries('Core PPI - ECI(wage,salary), %, rhs, 2Q lead', fig6PpiEciGap, '#1f6e78', 1.8, {yAxisIndex: 1}),
    {name: '12m fwd net margins', type: 'scatter', yAxisIndex: 1, data: fig6MarginForecast, symbol: 'diamond', symbolSize: 5, itemStyle: {color: '#e00000'}, silent: true}
  ],
  graphic: [
    legLine(73.7, 29.3, 20, '#c4c4c4', 2.6), legText(95.3, 29.3, 'US non financial net margins', 6.8),
    legLine(73.7, 52.7, 20, '#1f6e78', 1.8), legText(95.3, 52.7, 'Core PPI - ECI(wage,salary), %, rhs, 2Q lead', 6.8),
    legText(261, 15, '12m fwd net\nmargins', 6.6, {fontStyle: 'italic', lineHeight: 9, textAlign: 'center', align: 'center'})
  ]
});
</script>
</body></html>
